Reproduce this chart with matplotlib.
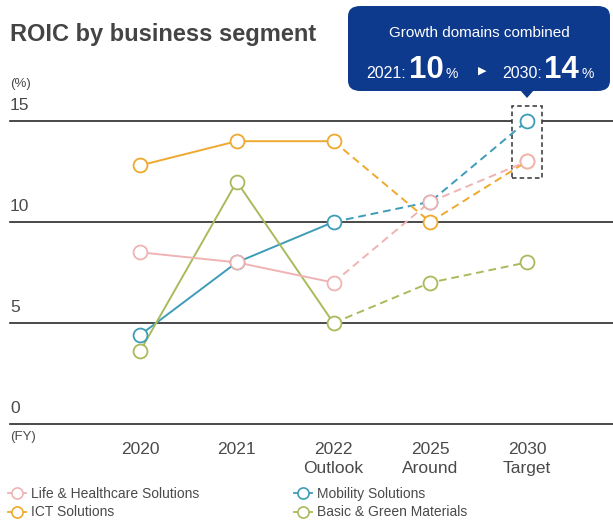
import matplotlib
matplotlib.use("Agg")
import matplotlib.pyplot as plt
from matplotlib.patches import FancyBboxPatch, Rectangle, Polygon
from matplotlib.lines import Line2D

plt.rcParams['font.family'] = ['Liberation Sans', 'DejaVu Sans']

# data
years = ["2020", "2021", "2022\nOutlook", "2025\nAround", "2030\nTarget"]
life = [8.5, 8.0, 7.0, 11.0, 13.0]
mobility = [4.4, 8.0, 10.0, 11.0, 15.0]
ict = [12.8, 14.0, 14.0, 10.0, 13.0]
basic = [3.6, 12.0, 5.0, 7.0, 8.0]
yticks = [0, 5, 10, 15]

names = ["Life & Healthcare Solutions", "Mobility Solutions",
         "ICT Solutions", "Basic & Green Materials"]
colors = ["#f0b3b3", "#3d9cb8", "#eea92e", "#a8bb5c"]
series = [life, mobility, ict, basic]

W, H = 613, 522
fig = plt.figure(figsize=(W / 100, H / 100), dpi=100)

def fx(px):
    return px / W

def fy(py):
    return 1 - py / H

# axes: x index 0 at px 140, step 96.75; y 0 at px 424, 20.2 px per unit
step = 96.75
ppu = 20.2
ax_left, ax_right = 10, 613
ax_bot, ax_top = 424, 424 - 16 * ppu
ax = fig.add_axes([fx(ax_left), fy(ax_bot), fx(ax_right - ax_left), (ax_bot - ax_top) / H])
ax.set_xlim(-(140 - ax_left) / step, 4 + (ax_right - 527) / step)
ax.set_ylim(0, 16)
for s in ax.spines.values():
    s.set_visible(False)
ax.set_yticks([])
ax.set_xticks(range(len(years)))
ax.set_xticklabels(years, fontsize=12.5, color="#4a4a4a", linespacing=1.3)
ax.tick_params(axis='x', length=0, pad=13)
ax.patch.set_alpha(0)

for v in yticks:
    ax.axhline(v, color="#2a2a2a", lw=1.2, zorder=1, clip_on=False)
    ax.text(ax.get_xlim()[0], v + 0.42, str(v), fontsize=12.5, color="#4a4a4a",
            ha='left', va='bottom')

# dashed highlight box around 2030
ax.add_patch(Rectangle((4 - 0.16, 12.2), 0.32, 3.55, fill=True, facecolor='white',
                       edgecolor='#333333', lw=1.1, ls=(0, (3, 2)), zorder=2))

# draw order so pink sits on top where markers overlap
x = list(range(len(years)))
order = [1, 2, 3, 0]
for i in order:
    vals, c = series[i], colors[i]
    ax.plot(x[:3], vals[:3], color=c, lw=1.4, zorder=3)
    ax.plot(x[2:], vals[2:], color=c, lw=1.4, ls=(0, (4, 2.5)), zorder=3)
    ax.plot(x, vals, ls='none', marker='o', ms=10, mfc='white', mec=c, mew=1.3, zorder=4)

# titles / axis notes
fig.text(fx(10), fy(34), "ROIC by business segment", fontsize=17, fontweight='bold',
         color="#444444", ha='left', va='center')
fig.text(fx(10), fy(84), "(%)", fontsize=9.5, color="#4a4a4a", ha='left', va='center')
fig.text(fx(10), fy(437), "(FY)", fontsize=9.5, color="#4a4a4a", ha='left', va='center')

# callout box
navy = "#0e3a8e"
box = FancyBboxPatch((fx(348), fy(91)), fx(610 - 348), (91 - 6) / H,
                     boxstyle="round,pad=0,rounding_size=0.02", transform=fig.transFigure,
                     facecolor=navy, edgecolor='none')
fig.patches.append(box)
fig.patches.append(Polygon([[fx(520), fy(90)], [fx(534), fy(90)], [fx(527), fy(98)]],
                           closed=True, transform=fig.transFigure, facecolor=navy,
                           edgecolor='none'))
fig.text(fx(479), fy(33), "Growth domains combined", fontsize=11, color='white',
         ha='center', va='center')
base = fy(78)
fig.text(fx(366), base, "2021:", fontsize=11.5, color='white', ha='left', va='baseline')
fig.text(fx(409), base, "10", fontsize=22.5, fontweight='bold', color='white', ha='left', va='baseline')
fig.text(fx(445), base, "%", fontsize=10, color='white', ha='left', va='baseline')
fig.text(fx(482), fy(71), "\u25b6", fontsize=8, color='white', ha='center', va='center',
         family=['DejaVu Sans'])
fig.text(fx(502), base, "2030:", fontsize=11.5, color='white', ha='left', va='baseline')
fig.text(fx(544), base, "14", fontsize=22.5, fontweight='bold', color='white', ha='left', va='baseline')
fig.text(fx(582), base, "%", fontsize=10, color='white', ha='left', va='baseline')

# legend, two columns
handles = [Line2D([], [], color=c, lw=1.3, marker='o', ms=8, mfc='white', mec=c, mew=1.2)
           for c in colors]
leg1 = fig.legend([handles[0], handles[2]], [names[0], names[2]], loc='upper left',
                  bbox_to_anchor=(fx(2), fy(481)), frameon=False, fontsize=10,
                  handlelength=1.3, handletextpad=0.4, labelspacing=0.35, borderaxespad=0,
                  labelcolor="#4a4a4a")
leg2 = fig.legend([handles[1], handles[3]], [names[1], names[3]], loc='upper left',
                  bbox_to_anchor=(fx(288), fy(481)), frameon=False, fontsize=10,
                  handlelength=1.3, handletextpad=0.4, labelspacing=0.35, borderaxespad=0,
                  labelcolor="#4a4a4a")

fig.savefig("out.png", dpi=100)
